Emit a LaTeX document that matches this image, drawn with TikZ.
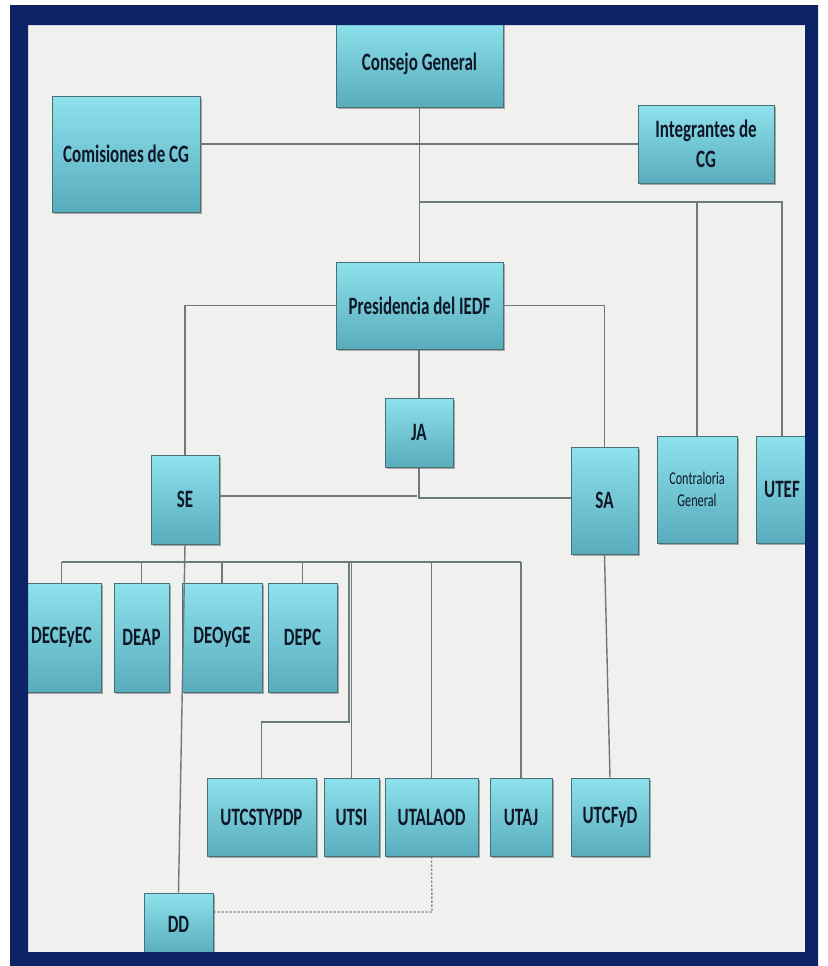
\documentclass[tikz,border=0pt]{standalone}
\usepackage{fontspec}
\newfontfamily\boxfont[FakeStretch=0.68]{Carlito}
\usetikzlibrary{shadows}
\definecolor{navyframe}{RGB}{12,36,102}
\definecolor{bgpaper}{RGB}{240,240,239}
\definecolor{boxtop}{RGB}{142,226,237}
\definecolor{boxbot}{RGB}{88,172,188}
\definecolor{boxedge}{RGB}{72,112,118}
\definecolor{linkgray}{RGB}{108,122,124}
\definecolor{txtdark}{RGB}{16,24,40}
\tikzset{
  orgbox/.style={draw=boxedge, line width=0.5pt, top color=boxtop, bottom color=boxbot,
    inner sep=0pt, align=center, text=txtdark,
    font=\boxfont\bfseries\fontsize{12.5}{15}\selectfont,
    drop shadow={shadow xshift=1pt, shadow yshift=-1pt, opacity=0.3, fill=black}},
  smallbox/.style={orgbox, font=\boxfont\fontsize{9}{11}\selectfont},
  link/.style={draw=linkgray, line width=0.7pt},
  dotlink/.style={draw=linkgray, line width=0.7pt, dash pattern=on 1pt off 1pt},
}
\begin{document}
\begin{tikzpicture}[x=0.5pt, y=-0.5pt]
\useasboundingbox (0,0) rectangle (828,966);
\fill[white] (0,0) rectangle (828,966);
\fill[bgpaper] (20,15) rectangle (812,958);

% boxes
\node[orgbox, minimum width=83.5pt, minimum height=43pt] (cg) at (419.5,64) {Consejo General};
\node[orgbox, minimum width=74pt, minimum height=58pt] (com) at (126,154) {Comisiones de CG};
\node[orgbox, minimum width=68pt, minimum height=39pt] (intg) at (706,144) {Integrantes de\\CG};
\node[orgbox, minimum width=83.5pt, minimum height=43.5pt] (pres) at (419.5,305.5) {Presidencia del IEDF};
\node[orgbox, minimum width=34pt, minimum height=34.5pt] (ja) at (419,432.5) {JA};
\node[orgbox, minimum width=34pt, minimum height=44.5pt] (se) at (185,499.5) {SE};
\node[orgbox, minimum width=33.5pt, minimum height=53.5pt] (sa) at (604.5,500.5) {SA};
\node[smallbox, minimum width=40pt, minimum height=53.5pt] (contr) at (697,489.5) {Contraloria\\General};
\node[orgbox, minimum width=26pt, minimum height=53.5pt] (utef) at (782,489.5) {UTEF};

\node[orgbox, minimum width=39.5pt, minimum height=54.5pt] (dece) at (61.5,637.5) {DECEyEC};
\node[orgbox, minimum width=27.5pt, minimum height=54.5pt] (deap) at (141.5,637.5) {DEAP};
\node[orgbox, minimum width=40pt, minimum height=54.5pt] (deo) at (222,637.5) {DEOyGE};
\node[orgbox, minimum width=34.5pt, minimum height=54.5pt] (depc) at (302.5,637.5) {DEPC};

\node[orgbox, minimum width=54.5pt, minimum height=39pt] (utcs) at (261.5,817) {UTCSTYPDP};
\node[orgbox, minimum width=27.5pt, minimum height=39pt] (utsi) at (351.5,817) {UTSI};
\node[orgbox, minimum width=46.5pt, minimum height=39pt] (utal) at (431.5,817) {UTALAOD};
\node[orgbox, minimum width=31pt, minimum height=39pt] (utaj) at (521,817) {UTAJ};
\node[orgbox, minimum width=39pt, minimum height=39pt] (utcf) at (610,817) {UTCFyD};
\node[orgbox, minimum width=34.5pt, minimum height=31pt] (dd) at (178.5,924) {DD};

% junction coordinates
\coordinate (jtop) at (420,202);
\coordinate (jutef) at (782,202);
\coordinate (jse) at (417,496);
\coordinate (jsa) at (420,498);
\coordinate (bus) at (0,562);
\coordinate (jcs) at (349,722);
\coordinate (jdd) at (432,912);

% connectors
\draw[link] (intg.west -| com.east) -- (intg.west);
\draw[link] (cg.south) -- (pres.north);
\draw[link] (jtop) -- (jutef) -- (utef.north);
\draw[link] (jtop -| contr.north) -- (contr.north);
\draw[link] (pres.west) -| (se.north);
\draw[link] (pres.east) -| (sa.north);
\draw[link] (ja.north |- pres.south) -- (ja.north);
\draw[link] (ja.south) -- (ja.south |- jsa) -- (jsa -| sa.west);
\draw[link] (se.east |- jse) -- (jse);
\draw[link] (se.south) -- (dd.north);
\draw[link] (dece.north |- bus) -- (utaj.north |- bus);
\draw[link] (dece.north |- bus) -- (dece.north);
\draw[link] (deap.north |- bus) -- (deap.north);
\draw[link] (deo.north |- bus) -- (deo.north);
\draw[link] (depc.north |- bus) -- (depc.north);
\draw[link] (jcs |- bus) -- (jcs) -| (utcs.north);
\draw[link] (utsi.north |- bus) -- (utsi.north);
\draw[link] (utal.north |- bus) -- (utal.north);
\draw[link] (utaj.north |- bus) -- (utaj.north);
\draw[link] (sa.south) -- (utcf.north);
\draw[dotlink] (utal.south) -- (jdd) -- (jdd -| dd.east);

% frame
\fill[navyframe, even odd rule] (10,5) rectangle (818,966) (28,25) rectangle (805,952);
\end{tikzpicture}
\end{document}
